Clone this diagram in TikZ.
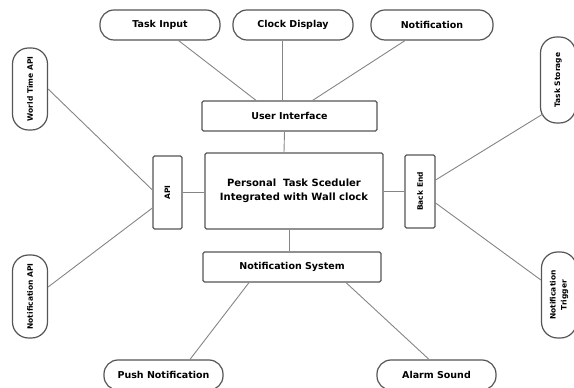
\documentclass[tikz,border=0pt]{standalone}
\usepackage{fontspec}
\setmainfont{DejaVu Sans}
\usetikzlibrary{positioning,calc}
\definecolor{edgegray}{HTML}{555555}
\definecolor{linkgray}{HTML}{858585}
\newcommand{\vlabel}[1]{\rotatebox{90}{\fontsize{7.5}{11}\selectfont #1}}

\begin{document}
\begin{tikzpicture}[x=1pt, y=1pt,
    pill/.style={draw=edgegray, line width=1.2pt, rounded corners=14pt, minimum height=30pt, inner sep=0pt, font=\fontsize{9.5}{11}\selectfont\bfseries},
    vpill/.style={draw=edgegray, line width=1.2pt, rounded corners=16pt, minimum width=35pt, inner sep=0pt, font=\bfseries},
    box/.style={draw=edgegray, line width=1.2pt, rounded corners=1.5pt, inner sep=0pt, font=\fontsize{9.5}{14}\selectfont\bfseries},
    link/.style={draw=linkgray, line width=0.9pt}]
    \useasboundingbox (0,0) rectangle (574,388);
    % outer ring
    \node[pill, minimum width=120pt] (tin) at (160,363) {Task Input};
    \node[pill, minimum width=120pt] (clk) at (293,363) {Clock Display};
    \node[pill, minimum width=122pt] (ntf) at (432,363) {Notification};
    \node[pill, minimum width=119pt] (push) at (163.5,13) {Push Notification};
    \node[pill, minimum width=119pt] (alarm) at (436.5,13) {Alarm Sound};
    \node[vpill, minimum height=82pt] (wta) at (30,299) {\vlabel{World Time API}};
    \node[vpill, minimum height=83pt] (napi) at (30,91.5) {\vlabel{Notification API}};
    \node[vpill, minimum height=86pt] (tsto) at (558,308) {\vlabel{Task Storage}};
    \node[vpill, minimum height=86pt] (ntrg) at (559,93) {\vlabel{\begin{tabular}{@{}c@{}}Notification\\Trigger\end{tabular}}};
    % inner boxes
    \node[box, minimum width=175pt, minimum height=30pt] (ui) at (289.5,272) {User Interface};
    \node[box, minimum width=178pt, minimum height=76pt, align=center, font=\fontsize{10}{14}\selectfont\bfseries] (core) at (294,197) {Personal\ \ Task Sceduler\\Integrated with Wall clock};
    \node[box, minimum width=29pt, minimum height=73pt] (api) at (167.5,195.5) {\vlabel{API}};
    \node[box, minimum width=30pt, minimum height=73pt] (back) at (420,196.5) {\vlabel{Back End}};
    \node[box, minimum width=178pt, minimum height=30pt] (ns) at (292,121) {Notification System};
    % connectors
    \draw[link] (tin.-40) -- (ui.155);
    \draw[link] (clk.-124) -- (clk.-124 |- ui.north);
    \draw[link] (ntf.-150) -- (ui.34);
    \draw[link] ([xshift=-5pt]ui.south) -- ([xshift=-10pt]core.north);
    \draw[link] ([xshift=-5pt]core.south) -- ([xshift=-3pt]ns.north);
    \draw[link] (api.east) -- (api.east -| core.west);
    \draw[link] (back.west -| core.east) -- (back.west);
    \draw[link] (wta.east) -- ([yshift=2.5pt]api.west);
    \draw[link] ([yshift=9.5pt]napi.east) -- ([yshift=-15.5pt]api.west);
    \draw[link] ([xshift=3pt,yshift=-34pt]tsto.west) -- ([yshift=11.5pt]back.east);
    \draw[link] ([yshift=-11.5pt]back.east) -- ([yshift=15pt]ntrg.west);
    \draw[link] ([xshift=-43pt]ns.south) -- ([xshift=26.5pt]push.north);
    \draw[link] ([xshift=54pt]ns.south) -- ([xshift=-7.5pt]alarm.north);
\end{tikzpicture}
\end{document}
